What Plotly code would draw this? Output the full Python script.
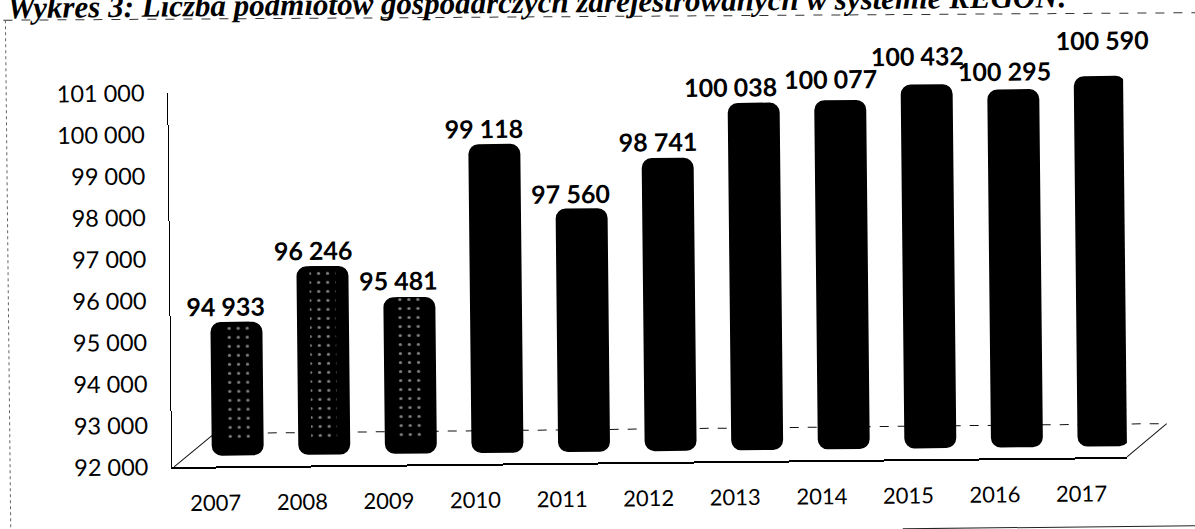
"""
plot.py
-------
Scanned bar chart: registered businesses per year (REGON), 2007-2017.
The whole page is tilted a little, like the scan it comes from.
"""

import plotly.graph_objects as go

years = [2007, 2008, 2009, 2010, 2011, 2012, 2013, 2014, 2015, 2016, 2017]
values = [94933, 96246, 95481, 99118, 97560, 98741, 100038, 100077, 100432, 100295, 100590]
y_ticks = [92000, 93000, 94000, 95000, 96000, 97000, 98000, 99000, 100000, 101000]
y_tick_labels = ["92 000", "93 000", "94 000", "95 000", "96 000", "97 000",
                 "98 000", "99 000", "100 000", "101 000"]
speckled_years = [2007, 2008, 2009]
speckled_values = [94933, 96246, 95481]
title_text = "Wykres 3: Liczba podmiotów gospodarczych zarejestrowanych w systemie REGON:"

# pixel nudges of the value labels relative to the bar top, they are placed by hand in the original
label_dx = [-10, -9, -10, -10, -11, -9, -23, -9, -9, -9, 3]
label_dy = [16, 16, 17, 16, 15, 17, 16, 22, 29, 19, 36]

W, H = 1195, 529
FONT = "Lato"
TILT = -0.6  # degrees
BAR_END = 91744  # the cylinders stand a little below the 92 000 line of their hidden axis


def px(x, y):
    return x / W, 1 - y / H


fig = go.Figure()

# the bars live on their own hidden axis because the 3D look shifts them off the tick scale
fig.add_trace(go.Bar(
    x=years, y=[v - BAR_END for v in values], base=BAR_END, yaxis="y2", width=0.6,
    marker=dict(color="#000000", cornerradius=10, line_width=0),
    showlegend=False,
))
# the scan leaves white speckle down the middle of the first three bars
fig.add_trace(go.Bar(
    x=speckled_years, y=[v - 92100 for v in speckled_values], base=92100, yaxis="y2", width=0.3,
    marker=dict(color="#000000", line_width=0,
                pattern=dict(shape=".", fgcolor="#ffffff", bgcolor="#000000", size=9, solidity=0.1)),
    showlegend=False,
))
# keeps the visible value axis alive
fig.add_trace(go.Scatter(x=years, y=values, yaxis="y", mode="none", showlegend=False, hoverinfo="skip"))

for year, value, dx, dy in zip(years, values, label_dx, label_dy):
    fig.add_annotation(x=year, y=value, xref="x", yref="y2", text=f"{value:,}".replace(",", " "),
                       showarrow=False, xshift=dx, yshift=dy,
                       font=dict(family=FONT, size=25, color="#000000", weight="bold"))

fig.add_annotation(x=8 / W, y=1 - 7 / H, xref="paper", yref="paper", xanchor="left", yanchor="bottom",
                   text=f"<b><i>{title_text}</i></b>", showarrow=False, yshift=-14,
                   font=dict(family="Liberation Serif", size=31, color="#000000"))

# floor of the 3D chart
floor = [((172, 462.5), (212, 430), "solid"), ((212, 429.5), (1165, 429.5), "dash"),
         ((1125, 462.5), (1165, 429.5), "solid")]
for (x0, y0), (x1, y1), dash in floor:
    xa, ya = px(x0, y0)
    xb, yb = px(x1, y1)
    fig.add_shape(type="line", xref="paper", yref="paper", x0=xa, y0=ya, x1=xb, y1=yb,
                  layer="below", line=dict(color="#111111", width=1, dash=dash))

# scanned frame round the chart
frame = [((6, 14), (1200, 19), "#333333", "dash"), ((8, 14), (8, 540), "#666666", "dot"),
         ((900, 532), (1200, 532), "#222222", "solid")]
for (x0, y0), (x1, y1), color, dash in frame:
    xa, ya = px(x0, y0)
    xb, yb = px(x1, y1)
    fig.add_shape(type="line", xref="paper", yref="paper", x0=xa, y0=ya, x1=xb, y1=yb,
                  line=dict(color=color, width=1, dash=dash))

fig.update_layout(
    width=W, height=H, margin=dict(l=0, r=0, t=0, b=0), barmode="overlay",
    paper_bgcolor="#ffffff", plot_bgcolor="rgba(0,0,0,0)",
    font=dict(family=FONT, color="#000000"),
    xaxis=dict(domain=[170 / W, 1125 / W], range=[2006.24, 2017.27], anchor="y", automargin=False,
               tickvals=[y - 0.26 for y in years], ticktext=[str(y) for y in years],
               showgrid=False, zeroline=False, showline=True, linecolor="#000000", linewidth=1.5,
               ticks="", ticklabelstandoff=16, tickfont=dict(size=22, family=FONT)),
    yaxis=dict(domain=[1 - 462.5 / H, 1 - 88.5 / H], range=[92000, 101000], anchor="x", automargin=False,
               tickvals=y_ticks, ticktext=y_tick_labels,
               showgrid=False, zeroline=False, showline=True, linecolor="#000000", linewidth=1,
               ticks="", ticklabelstandoff=18, tickfont=dict(size=23.5, family=FONT)),
    yaxis2=dict(domain=[1 - 462.5 / H, 1 - 50 / H], range=[91487, 101336], anchor="x", visible=False,
                automargin=False),
)

post = (
    "document.documentElement.style.overflow='hidden';"
    "document.body.style.margin='0';document.body.style.overflow='hidden';"
    "var gd=document.getElementsByClassName('plotly-graph-div')[0];"
    f"gd.style.transform='rotate({TILT}deg)';gd.style.transformOrigin='{W / 2}px {H / 2}px';"
    "gd.querySelectorAll('.main-svg').forEach(function(s){s.style.overflow='visible';});"
)
fig.write_html("out.html", post_script=post)
